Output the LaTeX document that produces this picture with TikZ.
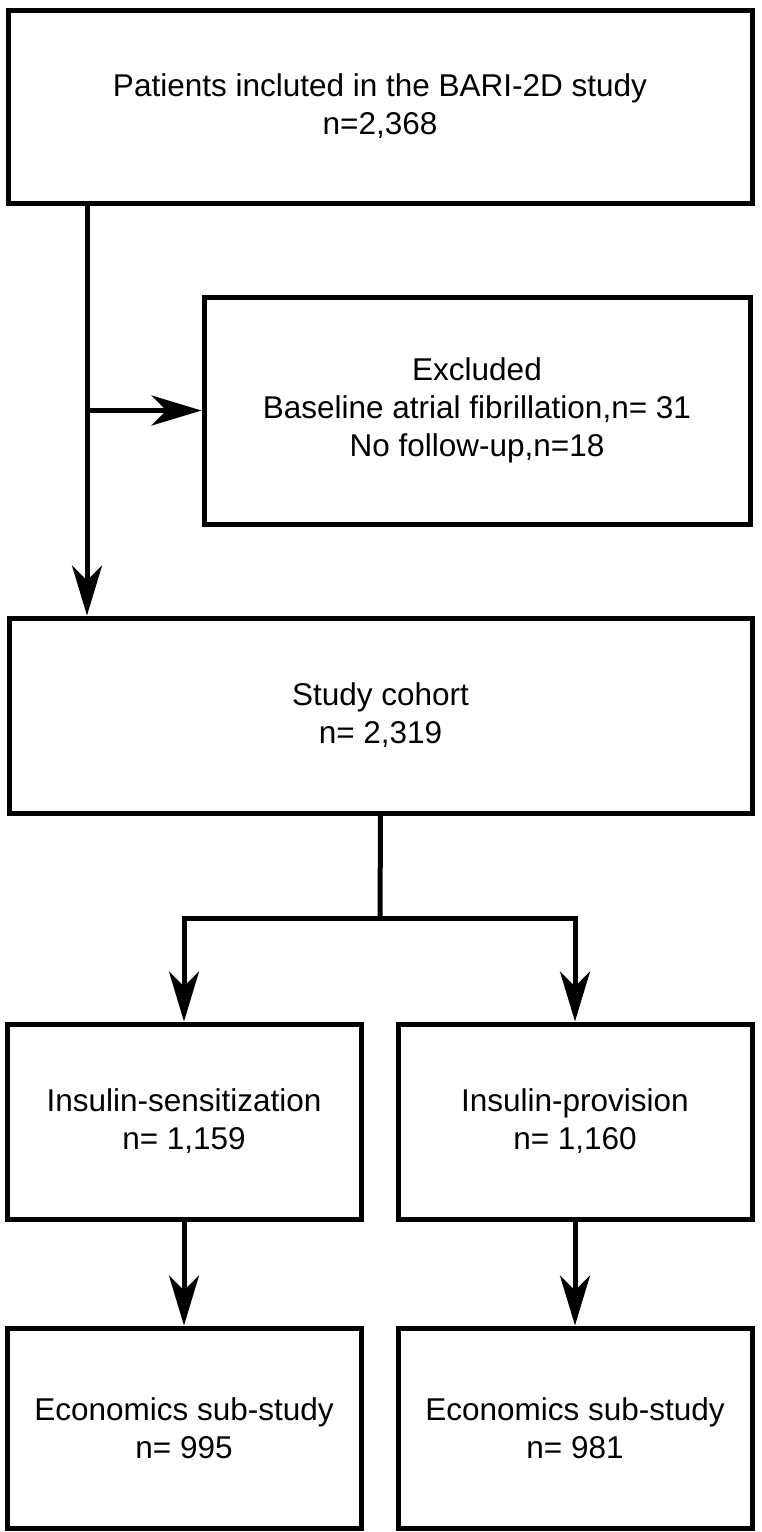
\documentclass[tikz,border=0pt]{standalone}
\usepackage{fontspec}
\setmainfont{Liberation Sans}
\usetikzlibrary{arrows.meta,positioning}

\begin{document}
\begin{tikzpicture}[->,>={Stealth[length=50pt,width=30pt,inset=15pt]},x=1pt,y=-1pt,
                line width=5pt,
                flow box/.style={rectangle,draw,inner sep=0pt,align=center,
                  font=\fontsize{31.5}{38}\selectfont}]
  \useasboundingbox (0,0) rectangle (761,1532);

  \node[flow box,minimum width=744pt,minimum height=193pt] (patients) at (380,106.5)
    {Patients incluted in the BARI-2D study\\n=2,368};
  \node[flow box,minimum width=546pt,minimum height=227pt] (excluded) at (477,410.5)
    {Excluded\\Baseline atrial fibrillation,n= 31\\No follow-up,n=18};
  \node[flow box,minimum width=743pt,minimum height=195pt] (cohort) at (380.5,715.5)
    {Study cohort\\n= 2,319};
  \node[flow box,minimum width=354pt,minimum height=195pt] (sens) at (184,1121.5)
    {Insulin-sensitization\\n= 1,159};
  \node[flow box,minimum width=354pt,minimum height=195pt] (prov) at (575,1121.5)
    {Insulin-provision\\n= 1,160};
  \node[flow box,minimum width=354pt,minimum height=200pt] (econ1) at (184,1428)
    {Economics sub-study\\n= 995};
  \node[flow box,minimum width=354pt,minimum height=200pt] (econ2) at (575,1428)
    {Economics sub-study\\n= 981};

  \coordinate (trunk) at (87,203);
  \coordinate (fork) at (trunk |- excluded.west);
  \coordinate (split) at (380,918);

  \draw (trunk) -- (trunk |- cohort.north);
  \draw (fork) -- (excluded.west);
  \draw[-] (cohort.south) -- (split);
  \draw (split) -| (sens.north);
  \draw (split) -| (prov.north);
  \draw (sens) -- (econ1);
  \draw (prov) -- (econ2);
\end{tikzpicture}
\end{document}
